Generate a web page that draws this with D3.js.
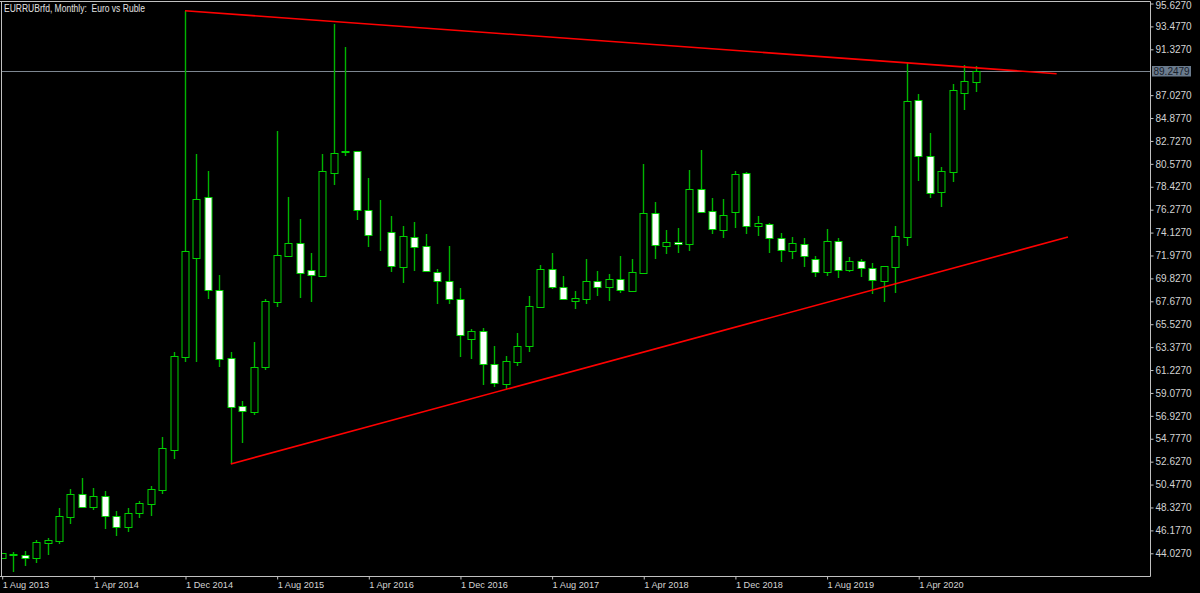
<!DOCTYPE html>
<html><head><meta charset="utf-8">
<script src="https://cdn.jsdelivr.net/npm/d3@7"></script>
<style>html,body{margin:0;padding:0;background:#000;}svg{display:block;}</style>
</head><body>
<svg id="chart" width="1200" height="593"></svg>
<script>
// ---- data ----
const title = "EURRUBrfd, Monthly:  Euro vs Ruble";
const months = d3.timeMonth.range(new Date(2013, 7, 1), new Date(2020, 9, 1)); // Aug 2013 .. Sep 2020
const openV  = [43.56,43.99,43.87,43.56,44.98,45.16,47.46,49.56,48.35,49.43,47.56,46.53,47.78,48.68,49.99,53.72,62.42,71.71,77.47,68.71,62.33,57.85,57.32,61.48,67.64,71.96,73.15,70.59,70.08,79.75,81.70,81.78,76.25,74.05,74.15,70.93,73.68,72.84,70.46,69.58,67.89,64.11,64.89,61.79,59.89,61.98,63.51,67.17,70.68,68.99,67.73,67.86,69.58,69.05,69.74,68.67,70.36,76.00,72.87,73.24,73.08,78.19,76.18,74.40,76.09,79.69,74.74,74.96,73.62,72.43,73.03,71.68,70.46,73.31,70.59,71.49,70.80,69.58,70.87,73.74,86.54,81.34,77.91,79.78,87.20,88.29];
const highV  = [44.10,44.18,44.27,45.27,45.49,48.25,50.06,51.12,50.13,49.87,48.03,48.25,48.96,50.37,54.91,62.89,94.95,81.50,79.91,70.15,62.95,58.32,63.83,67.92,83.66,77.50,75.40,72.18,81.50,93.70,91.52,81.80,79.22,77.16,75.68,74.74,75.12,73.99,70.74,72.89,68.93,65.08,65.14,63.45,62.54,64.67,68.17,71.06,72.18,70.03,68.67,71.64,70.55,70.27,71.92,71.64,80.56,76.97,74.34,74.56,80.00,81.91,77.40,77.25,79.91,79.79,75.71,75.06,74.06,73.68,73.62,71.90,74.46,73.62,71.86,71.62,71.24,71.00,74.77,90.07,87.13,83.47,80.25,88.04,89.85,89.79];
const lowV   = [43.45,42.30,42.86,43.09,43.87,44.90,46.78,48.30,48.09,46.31,45.68,46.05,47.37,47.53,49.59,52.89,62.01,62.01,67.89,61.54,52.41,54.41,57.01,61.23,67.17,71.90,68.02,67.64,70.00,78.56,81.34,75.31,72.80,72.40,70.43,69.42,70.55,70.40,67.40,67.42,62.45,62.26,59.82,59.61,59.42,61.63,62.95,67.02,68.83,67.83,66.98,67.45,68.15,67.73,68.43,68.58,70.30,71.64,72.14,72.24,72.43,76.00,73.99,73.62,74.53,74.02,73.83,72.24,71.39,71.64,70.92,69.99,70.09,69.89,70.46,70.00,68.33,67.64,68.49,72.87,78.97,77.37,76.50,78.84,85.63,87.35];
const closeV = [44.03,43.84,43.56,45.06,45.23,47.50,49.56,48.35,49.43,47.53,46.53,47.81,48.72,50.03,53.88,62.54,72.43,77.31,68.77,62.29,57.78,57.41,61.54,67.70,71.99,73.15,70.31,70.12,79.88,81.57,81.74,76.22,73.87,74.12,70.99,73.78,72.80,70.49,69.58,67.89,64.49,64.89,61.76,59.98,62.07,63.45,67.23,70.68,69.05,67.89,67.96,69.55,69.05,69.74,68.71,70.40,76.00,72.93,73.22,73.08,78.19,76.03,74.49,75.75,79.63,74.74,74.99,73.59,72.46,73.12,71.93,70.46,73.31,70.59,71.49,70.77,69.70,70.96,73.83,86.45,81.34,77.84,79.88,87.48,88.35,89.2479];
const currentPrice = 89.2479;
const yTickValues = [95.627,93.477,91.327,87.027,84.877,82.727,80.577,78.427,76.277,74.127,71.977,69.827,67.677,65.527,63.377,61.227,59.077,56.927,54.777,52.627,50.477,48.327,46.177,44.027];
const xTickIndex  = [0,8,16,24,32,40,48,56,64,72,80];
const xTickLabels = ["1 Aug 2013","1 Apr 2014","1 Dec 2014","1 Aug 2015","1 Apr 2016","1 Dec 2016","1 Aug 2017","1 Apr 2018","1 Dec 2018","1 Aug 2019","1 Apr 2020"];
// trend lines: [monthIndex, price]
const upperTrend = [[16, 94.95], [92.08, 89.04]];
const lowerTrend = [[20, 52.41], [93.07, 73.71]];

// ---- layout ----
const svg = d3.select("#chart");
const plotL = 2, plotT = 2, plotR = 1150, plotB = 576;
const x = d3.scaleLinear().domain([0, 85]).range([1.7, 975.5]);
const y = d3.scaleLinear().domain([44.027, 95.627]).range([553.3, 3.5]);
const axisColor = "#c0c0c0", textColor = "#d4d4d4";
const font = "Liberation Sans, Arial, sans-serif";

svg.append("rect").attr("width",1200).attr("height",593).attr("fill","#000");

svg.append("clipPath").attr("id","plotclip").append("rect")
  .attr("x",plotL).attr("y",plotT).attr("width",plotR-plotL).attr("height",plotB-plotT);

const g = svg.append("g").attr("clip-path","url(#plotclip)");

const data = months.map((m,i)=>({i, o:openV[i], h:highV[i], l:lowV[i], c:closeV[i]}));
const cx = d => Math.round(x(d.i)) + 0.5;

// current price line
g.append("line").attr("x1",plotL).attr("x2",plotR)
  .attr("y1",Math.round(y(currentPrice))+0.5).attr("y2",Math.round(y(currentPrice))+0.5)
  .attr("stroke","#7d8690").attr("stroke-width",1);

// wicks
g.selectAll("line.wick").data(data).join("line").attr("class","wick")
  .attr("x1",cx).attr("x2",cx)
  .attr("y1",d=>Math.round(y(d.h))).attr("y2",d=>Math.round(y(d.l)))
  .attr("stroke","#00b400").attr("stroke-width",1.4);

// bodies
g.selectAll("rect.body").data(data).join("rect").attr("class","body")
  .attr("x",d=>cx(d)-3.5).attr("width",7)
  .attr("y",d=>Math.round(y(Math.max(d.o,d.c)))+0.5)
  .attr("height",d=>Math.max(0, Math.round(y(Math.min(d.o,d.c))) - Math.round(y(Math.max(d.o,d.c)))))
  .attr("fill",d=>d.c>=d.o ? "#000" : "#fff")
  .attr("stroke","#00d200").attr("stroke-width",1);

// trend lines
const tl = d3.line().x(p=>x(p[0])).y(p=>y(p[1]));
[upperTrend, lowerTrend].forEach(t=>{
  g.append("path").attr("d",tl(t)).attr("fill","none").attr("stroke","#ff0000").attr("stroke-width",1.6);
});

// frame
svg.append("path")
  .attr("d",`M0,${plotT-0.5}H${plotR+0.5}V${plotB+0.5}H0`)
  .attr("fill","none").attr("stroke",axisColor).attr("stroke-width",1);
svg.append("line").attr("x1",plotL-0.5).attr("x2",plotL-0.5).attr("y1",plotT).attr("y2",plotB)
  .attr("stroke",axisColor).attr("stroke-width",1);

// y axis
const yAxis = d3.axisRight(y).tickValues(yTickValues).tickSize(3).tickPadding(2)
  .tickFormat(d3.format(".4f"));
const ya = svg.append("g").attr("transform",`translate(${plotR+0.5},0)`).call(yAxis);
ya.select(".domain").remove();
ya.selectAll(".tick line").attr("stroke",axisColor);
ya.selectAll(".tick text").attr("fill",textColor).attr("font-family",font).attr("font-size","10px");
// keep the topmost label inside the picture
ya.selectAll(".tick text").filter(d=>d===yTickValues[0]).attr("dy","0.5em");

// current price label
const cpY = Math.round(y(currentPrice));
svg.append("rect").attr("x",plotR+2).attr("y",cpY-5).attr("width",39).attr("height",10.5)
  .attr("fill","#6b7b8d");
svg.append("text").attr("x",plotR+3.5).attr("y",cpY+3.8).text(d3.format(".4f")(currentPrice))
  .attr("fill","#17202b").attr("font-family",font).attr("font-size","10px");

// x axis
const xAxis = d3.axisBottom(x).tickValues(xTickIndex).tickSize(3)
  .tickFormat((d,k)=>xTickLabels[k]);
const xa = svg.append("g").attr("transform",`translate(0,${plotB+0.5})`).call(xAxis);
xa.select(".domain").remove();
xa.selectAll(".tick line").attr("stroke",axisColor).attr("transform","translate(0.5,0)");
xa.selectAll(".tick text").attr("fill",textColor).attr("font-family",font).attr("font-size","9.2px")
  .attr("text-anchor","start").attr("dx","0.5").attr("dy","0").attr("y",11.5);

// title
svg.append("text").attr("x",4).attr("y",11.5).text(title)
  .attr("fill","#e0e0e0").attr("font-family",font).attr("font-size","10px")
  .style("white-space","pre")
  .attr("textLength",141).attr("lengthAdjust","spacingAndGlyphs");
</script>
</body></html>
